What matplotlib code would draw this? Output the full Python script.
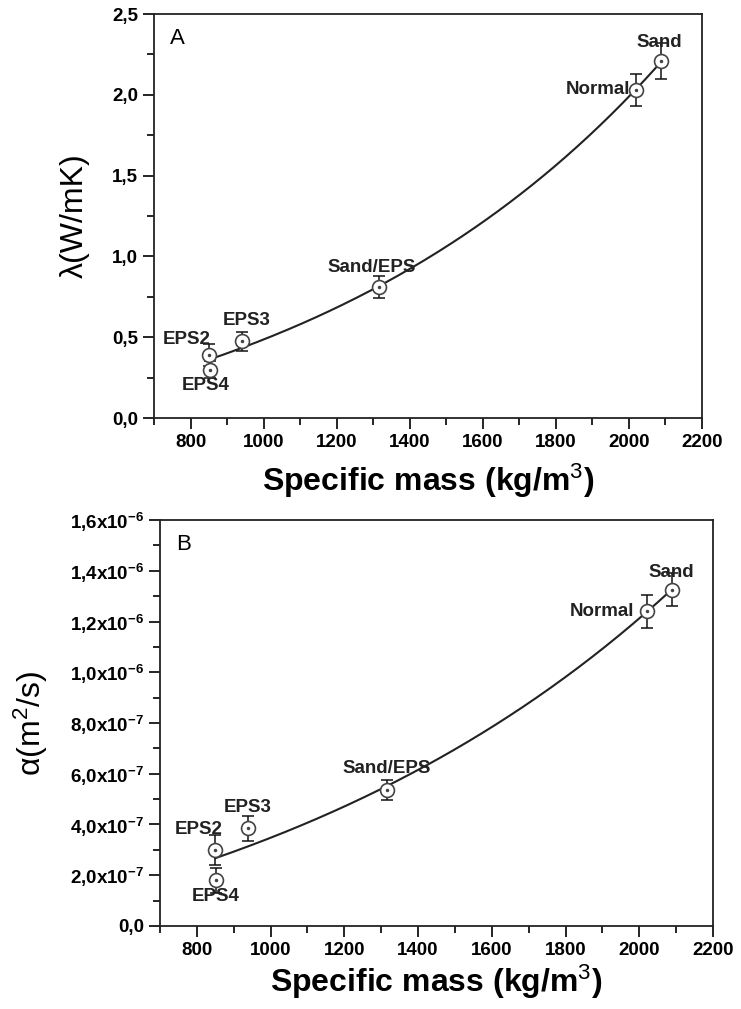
import numpy as np
import matplotlib
matplotlib.use("Agg")
import matplotlib.pyplot as plt
from matplotlib.ticker import MultipleLocator, FixedLocator, FixedFormatter

plt.rcParams['font.family'] = ['Liberation Sans', 'DejaVu Sans']
plt.rcParams['mathtext.fontset'] = 'custom'
plt.rcParams['mathtext.rm'] = 'Liberation Sans'
plt.rcParams['mathtext.it'] = 'Liberation Sans:italic'
plt.rcParams['mathtext.bf'] = 'Liberation Sans:bold'

# samples
names = ['EPS2', 'EPS4', 'EPS3', 'Sand/EPS', 'Normal', 'Sand']
mass = [850, 853, 940, 1316, 2020, 2088]

# panel A: thermal conductivity (W/mK)
lam = [0.39, 0.30, 0.475, 0.81, 2.03, 2.21]
lam_err = [0.07, 0.05, 0.06, 0.07, 0.10, 0.11]

# panel B: thermal diffusivity (m2/s)
alpha = [3.0e-7, 1.8e-7, 3.85e-7, 5.35e-7, 1.24e-6, 1.325e-6]
alpha_err = [0.6e-7, 0.5e-7, 0.5e-7, 0.4e-7, 0.65e-7, 0.65e-7]

# label offsets in pixels (dx, dy, ha) for each sample
offs_a = [(-22, 16, 'center'), (-4, -16, 'center'), (5, 21, 'center'),
          (-7, 20, 'center'), (-6, 0, 'right'), (-2, 18, 'center')]
offs_b = [(-17, 20, 'center'), (-1, -16, 'center'), (-1, 21, 'center'),
          (0, 22, 'center'), (-12, 0, 'right'), (0, 17, 'center')]

b_ticks = [0, 2e-7, 4e-7, 6e-7, 8e-7, 1.0e-6, 1.2e-6, 1.4e-6, 1.6e-6]
b_labels = ['0,0', r'2,0x10$^{\mathbf{-7}}$', r'4,0x10$^{\mathbf{-7}}$',
            r'6,0x10$^{\mathbf{-7}}$', r'8,0x10$^{\mathbf{-7}}$',
            r'1,0x10$^{\mathbf{-6}}$', r'1,2x10$^{\mathbf{-6}}$',
            r'1,4x10$^{\mathbf{-6}}$', r'1,6x10$^{\mathbf{-6}}$']


def exp_grow_fit(x, y):
    # y = y0 + A*exp(x/t), scan t and solve linear part by least squares
    x = np.asarray(x, float)
    y = np.asarray(y, float)
    best = None
    for t in np.linspace(200, 3000, 1400):
        M = np.column_stack([np.ones_like(x), np.exp(x / t)])
        coef, res, rk, sv = np.linalg.lstsq(M, y, rcond=None)
        r = np.sum((M @ coef - y) ** 2)
        if best is None or r < best[0]:
            best = (r, coef, t)
    r, coef, t = best
    return lambda xx: coef[0] + coef[1] * np.exp(xx / t)


def draw_panel(ax, y, yerr, offs, tag, xpad):
    f = exp_grow_fit(mass, y)
    xx = np.linspace(min(mass), max(mass), 200)
    ax.plot(xx, f(xx), '-', color='#222222', lw=1.5, zorder=2)
    ax.errorbar(mass, y, yerr=yerr, fmt='none', ecolor='#111111',
                elinewidth=1.1, capsize=4, capthick=1.1, zorder=3)
    ax.plot(mass, y, 'o', ms=10, mfc='white', mec='#444444', mew=1.2, zorder=4)
    ax.plot(mass, y, '.', ms=3, color='#444444', zorder=5)
    for n, xv, yv, (dx, dy, ha) in zip(names, mass, y, offs):
        ax.annotate(n, (xv, yv), xytext=(dx, dy), textcoords='offset pixels',
                    ha=ha, va='center', fontsize=13.5, fontweight='bold',
                    color='#222222')
    ax.text(0.03, 0.965, tag, transform=ax.transAxes, ha='left', va='top',
            fontsize=16)
    ax.set_xlim(700, 2200)
    ax.xaxis.set_major_locator(MultipleLocator(200))
    ax.xaxis.set_minor_locator(MultipleLocator(100))
    ax.tick_params(which='both', direction='out', top=False, right=False,
                   labelsize=13.5, width=1.2)
    ax.tick_params(which='major', length=8)
    ax.tick_params(which='minor', length=5)
    for lab in ax.get_xticklabels() + ax.get_yticklabels():
        lab.set_fontweight('bold')
    for s in ax.spines.values():
        s.set_linewidth(1.3)
        s.set_color('#222222')
    ax.set_xlabel('Specific mass (kg/m$^3$)', fontsize=23, fontweight='bold',
                  labelpad=xpad)


fig = plt.figure(figsize=(7.41, 10.09), dpi=100)

ax1 = fig.add_axes([0.2078, 0.5857, 0.7396, 0.4004])
ax1.set_ylim(0, 2.5)
ax1.yaxis.set_major_locator(MultipleLocator(0.5))
ax1.yaxis.set_minor_locator(MultipleLocator(0.25))
ax1.yaxis.set_major_formatter(plt.FuncFormatter(lambda v, p: ('%.1f' % v).replace('.', ',')))
draw_panel(ax1, lam, lam_err, offs_a, 'A', 8)
ax1.set_ylabel('λ(W/mK)', fontsize=23, labelpad=16)

ax2 = fig.add_axes([0.2159, 0.0823, 0.7463, 0.4023])
ax2.set_ylim(0, 1.6e-6)
ax2.yaxis.set_major_locator(FixedLocator(b_ticks))
ax2.yaxis.set_major_formatter(FixedFormatter(b_labels))
ax2.yaxis.set_minor_locator(MultipleLocator(1e-7))
draw_panel(ax2, alpha, alpha_err, offs_b, 'B', 3)
ax2.set_ylabel('α(m$^2$/s)', fontsize=23, labelpad=14)

plt.savefig('out.png', dpi=100)
